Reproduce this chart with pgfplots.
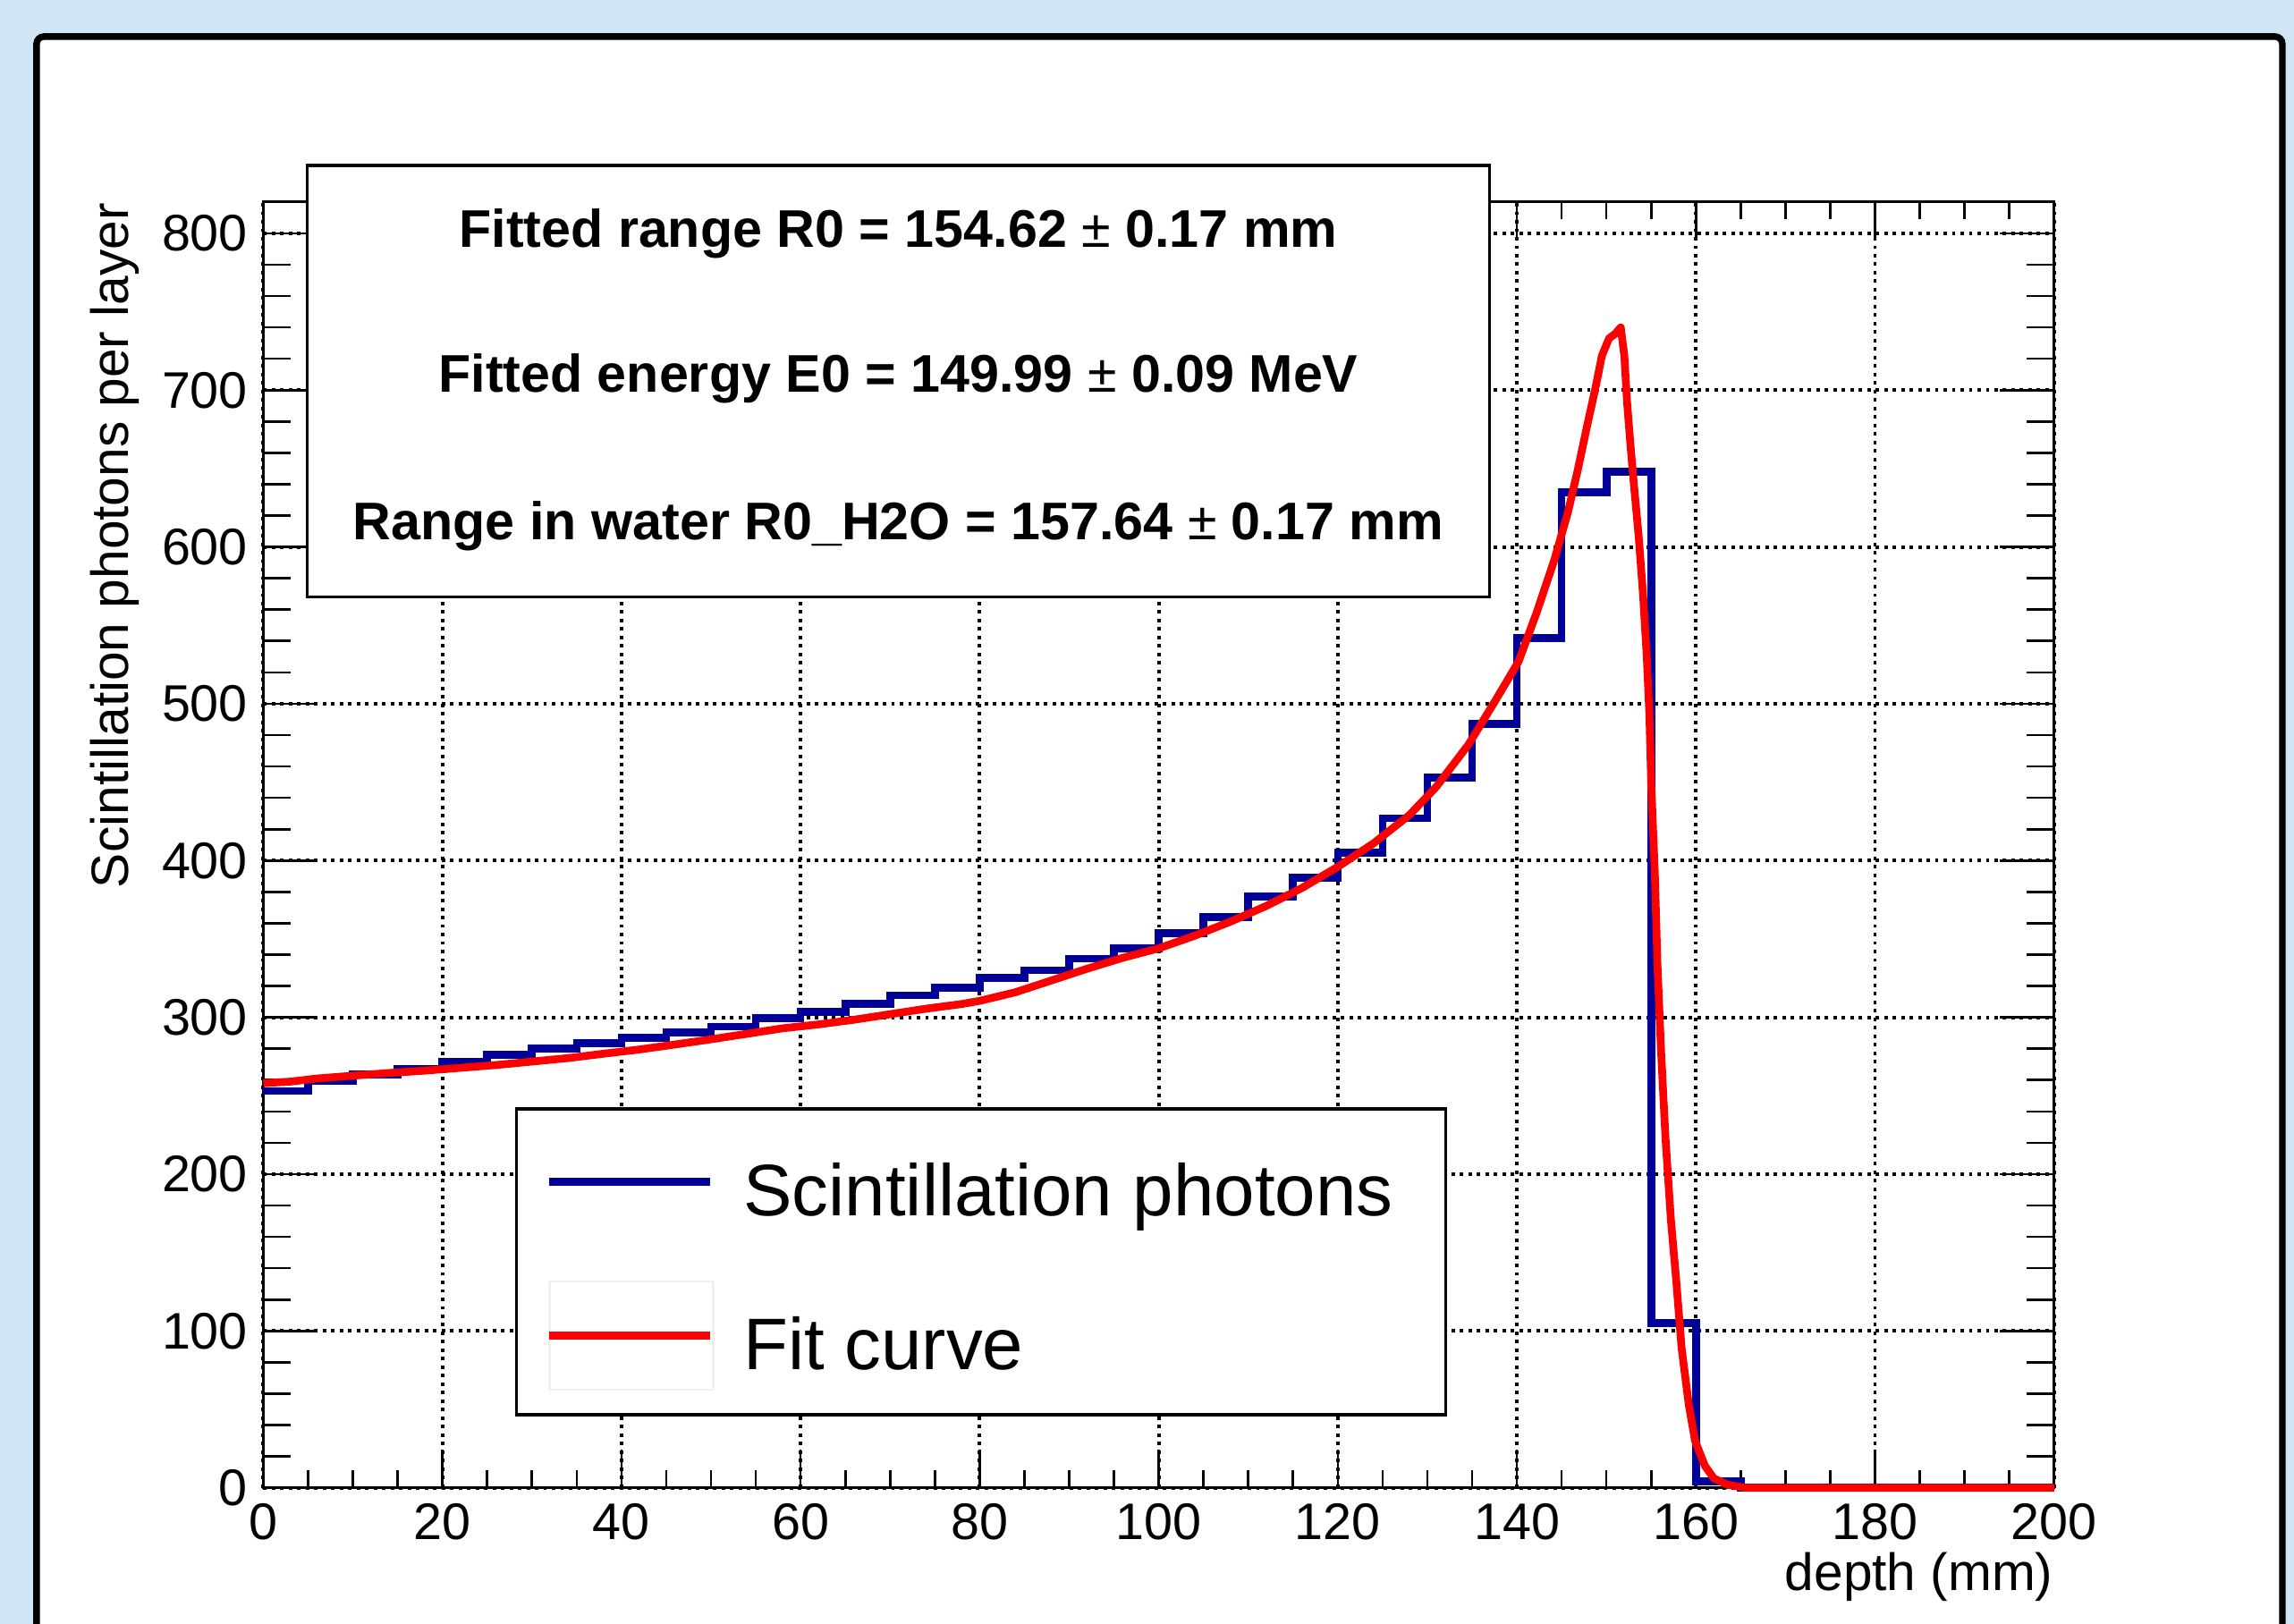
\documentclass[border=0pt]{standalone}
\usepackage{fontspec}
\setmainfont{Liberation Sans}
\usepackage{pgfplots}
\pgfplotsset{compat=1.18}
\definecolor{bgblue}{RGB}{207,229,243}
\definecolor{histblue}{RGB}{0,0,153}
\definecolor{fitred}{RGB}{255,0,0}

\begin{document}
\begin{tikzpicture}
\useasboundingbox (0,0) rectangle (156.8mm,111mm);
\clip (0,0) rectangle (156.8mm,111mm);
\fill[bgblue] (0,0) rectangle (156.8mm,111mm);
\filldraw[fill=white, draw=black, line width=0.45mm, rounded corners=0.5mm]
  (2.5mm,-5mm) -- (2.5mm,108.5mm) -- (156mm,108.5mm) -- (156mm,-5mm) -- cycle;

\begin{axis}[
  at={(18mm,9.3mm)}, anchor=south west,
  scale only axis, width=122.4mm, height=87.9mm,
  xmin=0, xmax=200, ymin=0, ymax=820,
  xtick={0,20,...,200}, ytick={0,100,...,800},
  minor x tick num=3, minor y tick num=4,
  tick align=inside, tick pos=both,
  xticklabel pos=lower, yticklabel pos=left,
  grid=major,
  major grid style={black, line width=0.24mm, dash pattern=on 0.24mm off 0.34mm},
  axis line style={line width=0.16mm},
  every tick/.style={black, line width=0.16mm},
  major tick length=3.7mm, minor tick length=1.85mm,
  every major x tick/.append style={/pgfplots/major tick length=2.6mm},
  every minor x tick/.append style={/pgfplots/minor tick length=1.2mm},
  /pgf/number format/assume math mode=true,
  ticklabel style={font=\fontsize{10}{12}\selectfont, inner sep=0pt},
  xticklabel style={yshift=-1.0mm},
  yticklabel style={xshift=-1.0mm},
  xlabel={depth (mm)},
  ylabel={Scintillation photons per layer},
  label style={font=\fontsize{10.2}{12}\selectfont, inner sep=0pt},
  xlabel style={at={(axis description cs:1,0)}, anchor=base east, yshift=-7.0mm},
  ylabel style={at={(axis description cs:-0.0752,1)}, anchor=base east},
  clip=false,
  legend cell align=left,
  legend style={at={(axis description cs:0.1405,0.2958)}, anchor=north west,
    draw=black, line width=0.2mm, fill=white,
    inner xsep=2.0mm, inner ysep=2.8mm, row sep=5.7mm, column sep=2.0mm,
    font=\fontsize{14.2}{17}\selectfont,
    nodes={inner sep=0pt, text height=4.5mm, text depth=0.3mm}},
]

% histogram: left bin edges, 5 mm bins
\addplot[const plot, color=histblue, line width=0.53mm,
  legend image code/.code={\draw[histblue, line width=0.53mm] (0mm,0.2mm) -- (11mm,0.2mm);}]
  coordinates {
  (0,253) (5,259.5) (10,263.5) (15,267) (20,271.5) (25,276) (30,280) (35,283.5)
  (40,287) (45,290.5) (50,294) (55,299.5) (60,303.5) (65,308.5) (70,314) (75,319)
  (80,325) (85,330) (90,337.5) (95,344) (100,353.5) (105,364) (110,377) (115,389)
  (120,405) (125,427) (130,453) (135,487) (140,542) (145,635) (150,648) (155,105)
  (160,4) (165,0) (200,0)
  };
\addlegendentry{Scintillation photons\hspace*{1.6mm}}

% fit curve
\addplot[color=fitred, line width=0.53mm, line join=round,
  legend image code/.code={
    \draw[overlay, black!6, line width=0.15mm] (0mm,-3.5mm) rectangle (11.2mm,3.9mm);
    \draw[fitred, line width=0.53mm] (0mm,0.2mm) -- (11mm,0.2mm);}]
  coordinates {
  (0,258) (3,259) (6,261) (10,262.8) (14,264.5) (18,266) (22,267.8) (26,269.6)
  (30,271.8) (34,274) (38,276.8) (42,279.5) (46,282.7) (50,286) (54,289.5) (58,293)
  (62,295.5) (66,298.5) (70,302) (74,305.5) (78,308.5) (80,310.5) (84,316) (88,323.5)
  (92,331) (96,338) (100,344) (104,352) (108,361) (112,371) (116,382.5) (120,396)
  (124,411) (128,429) (131,447) (134.6,474) (137.6,502) (140.2,527) (142.2,558)
  (144.2,592) (145.7,622) (146.8,649) (147.8,676) (148.8,702) (149.5,722) (150.3,733)
  (151,736) (151.6,740) (152,722) (152.3,693) (152.7,664) (153.1,638) (153.6,607)
  (154.1,569) (154.5,531) (154.8,493) (155.0,450) (155.4,393) (155.7,334) (156.1,279)
  (156.6,223) (157.2,171) (157.8,132) (158.4,89) (159.2,53) (159.9,30) (161,14)
  (162,6) (163.5,2) (165.5,0) (200,0)
  };
\addlegendentry{Fit curve}

% fit result box
\draw[fill=white, line width=0.2mm] (axis description cs:0.0245,0.6928) rectangle (axis description cs:0.6846,1.0284);
\node[anchor=base, inner sep=0pt, font=\bfseries\fontsize{10.3}{12}\selectfont]
  at (axis description cs:0.3546,0.9647) {Fitted range R0 = 154.62 {\mdseries ±} 0.17 mm};
\node[anchor=base, inner sep=0pt, font=\bfseries\fontsize{10.3}{12}\selectfont]
  at (axis description cs:0.3546,0.8521) {Fitted energy E0 = 149.99 {\mdseries ±} 0.09 MeV};
\node[anchor=base, inner sep=0pt, font=\bfseries\fontsize{10.3}{12}\selectfont]
  at (axis description cs:0.3546,0.7372) {Range in water R0\_H2O = 157.64 {\mdseries ±} 0.17 mm};
\end{axis}
\end{tikzpicture}
\end{document}
